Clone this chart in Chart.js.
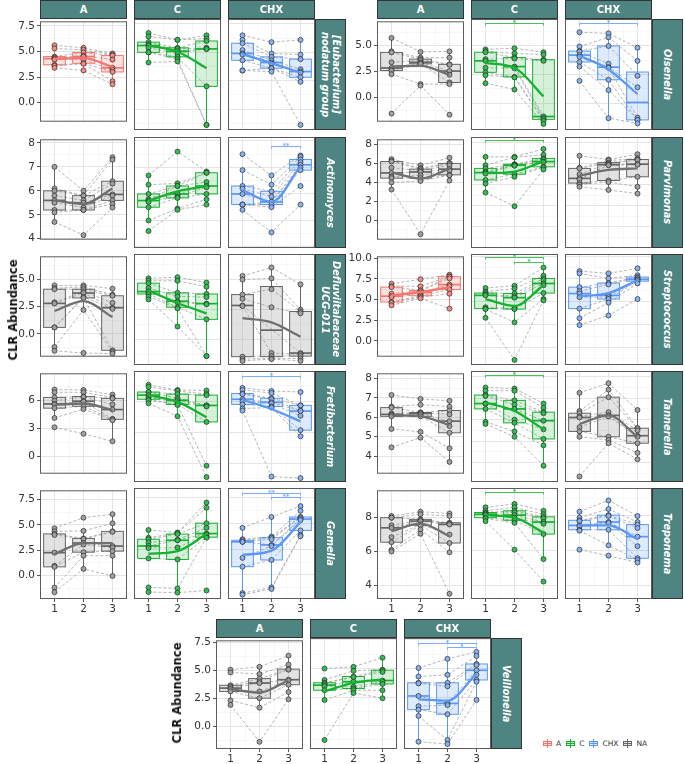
<!DOCTYPE html>
<html>
<head>
<meta charset="utf-8">
<script src="https://cdn.jsdelivr.net/npm/chart.js@4.4.1/dist/chart.umd.min.js"></script>
<style>
  body { margin: 0; width: 685px; height: 764px; position: relative; background: #fff; overflow: hidden;
         font-family: "DejaVu Sans", sans-serif; }
  .cell { position: absolute; }
  .strip { position: absolute; box-sizing: border-box; background: #4e8582; border: 1px solid #333;
           color: #fff; font-weight: bold; font-size: 10px; display: flex; align-items: center;
           justify-content: center; z-index: 5; }
  .side { writing-mode: vertical-rl; font-style: italic; font-size: 9.8px; text-align: center; line-height: 11.5px; }
  .ytitle { position: absolute; font-weight: bold; font-size: 11.5px; white-space: nowrap; color: #111;
            transform: translate(-50%, -50%) rotate(-90deg); z-index: 6; }
  .legend { position: absolute; left: 542px; top: 739px; font-size: 7.5px; color: #333; white-space: nowrap; }
  .legend span.item { margin-right: 4px; }
  .key { display: inline-block; position: relative; width: 11px; height: 9px; margin-right: 3px; vertical-align: middle; }
  .key s { position: absolute; left: 5px; top: 0; bottom: 0; width: 1px; background: var(--c); }
  .key i { position: absolute; left: 1px; right: 1px; top: 2px; bottom: 2px; border: 1px solid var(--c); background: var(--f); }
  .key b { position: absolute; left: 1px; right: 1px; top: 4px; height: 1px; background: var(--c); }
</style>
</head>
<body>
<script>
// ---- data: [t1 values], [t2 values], [t3 values], index = subject ----
const timepoints = [1, 2, 3];
const groupNames = ['A', 'C', 'CHX'];

const eubacteriumA = [[5.6, 5.3, 4.5, 4.4, 4.3, 4.2, 3.7, 3.6, 3.4], [5.35, 5.15, 4.9, 4.6, 4.5, 4.2, 3.85, 3.8, 3.15], [4.8, 4.7, 4.6, 4.2, 3.4, 3.2, 3.0, 2.1, 1.8]];
const eubacteriumC = [[6.7, 6.4, 5.9, 5.7, 5.6, 5.4, 5.0, 5.0, 4.1], [6.1, 6.1, 5.4, 5.3, 5.1, 4.9, 4.6, 4.4, 4.2], [6.5, 6.2, 6.0, 5.4, 5.3, 5.3, 2.0, -1.4, -1.4]];
const eubacteriumCHX = [[6.5, 6.1, 5.8, 5.2, 4.9, 4.8, 4.3, 3.4, 3.4], [5.9, 4.9, 4.6, 4.3, 4.1, 4.0, 3.6, 3.6, 3.3], [6.1, 4.8, 4.4, 3.5, 3.3, 3.2, 2.8, 2.4, -1.4]];
const eubacteriumTrend = [[4.3, 4.35, 3.5], [5.6, 5.05, 3.6], [4.85, 4.05, 3.2]];
const eubacteriumFill = ['A', 'C', 'CHX'];
const eubacteriumSig = [];
const eubacteriumTicks = [0, 2.5, 5, 7.5];

const actinomycesA = [[7.0, 6.1, 6.0, 5.8, 5.6, 5.5, 5.2, 5.1, 4.7], [6.0, 5.8, 5.8, 5.6, 5.5, 5.3, 5.2, 5.2, 4.15], [7.4, 7.3, 6.4, 6.3, 5.85, 5.8, 5.6, 5.45, 5.3]];
const actinomycesC = [[6.7, 6.35, 6.0, 5.8, 5.75, 5.7, 5.5, 5.0, 4.6], [7.6, 6.4, 6.3, 6.3, 6.0, 5.9, 5.85, 5.45, 5.4], [6.85, 6.8, 6.8, 6.45, 6.3, 6.25, 6.0, 5.8, 5.6]];
const actinomycesCHX = [[7.5, 6.9, 6.3, 6.2, 6.0, 5.6, 5.6, 5.6, 5.4], [6.7, 6.35, 6.1, 5.9, 5.7, 5.7, 5.6, 5.5, 4.55], [7.45, 7.4, 7.3, 7.2, 7.1, 7.0, 6.9, 6.3, 5.6]];
const actinomycesTrend = [[5.6, 5.45, 6.1], [5.75, 6.1, 6.3], [6.15, 5.7, 7.05]];
const actinomycesFill = ['NA', 'C', 'CHX'];
const actinomycesSig = [['CHX', 2, 3, 7.82, '**']];
const actinomycesTicks = [4, 5, 6, 7, 8];

const defluviiA = [[4.45, 4.2, 4.1, 2.9, 2.8, 0.6, 0.6, -1.2, -1.55], [4.45, 4.3, 4.1, 3.9, 3.75, 3.4, 3.3, 2.2, -1.75], [4.15, 3.6, 3.5, 2.85, 2.4, 2.3, -1.5, -1.65, -1.8]];
const defluviiC = [[5.1, 4.9, 4.7, 4.3, 4.0, 4.0, 3.8, 3.6, 3.35], [5.2, 4.9, 3.9, 3.6, 3.2, 3.1, 2.7, 2.6, 1.1], [4.75, 4.4, 3.8, 3.55, 3.0, 2.95, 1.7, -1.35, -1.35]];
const defluviiCHX = [[5.3, 5.0, 3.75, 3.4, 2.85, 2.8, -1.4, -1.6, -1.75], [6.0, 5.1, 4.2, 2.7, null, -1.1, -1.35, -1.55, -1.6], [4.6, 2.5, 2.35, 2.2, -1.1, -1.2, -1.35, -1.55, -1.75]];
const defluviiTrend = [[2.1, 3.0, 1.55], [4.1, 3.05, 2.2], [1.8, 1.45, 0.25]];
const defluviiFill = ['NA', 'C', 'NA'];
const defluviiSig = [];
const defluviiTicks = [0, 2.5, 5];

const fretibacteriumA = [[7.2, 6.9, 6.35, 6.0, 5.65, 5.6, 5.2, 4.15, 3.15], [7.15, 6.9, 6.45, 6.4, 5.95, 5.9, 5.4, 5.1, 2.45], [6.65, 6.35, 6.25, 5.6, 5.05, 4.05, 4.0, 3.9, 1.65]];
const fretibacteriumC = [[7.6, 7.4, 6.9, 6.9, 6.6, 6.4, 6.2, 6.1, 5.8], [7.1, 7.0, 6.7, 6.3, 6.1, 5.9, 5.7, 5.65, 4.55], [7.05, 6.7, 6.6, 5.6, 5.6, 5.5, 4.0, -0.25, -1.35]];
const fretibacteriumCHX = [[7.3, 7.1, 6.75, 6.7, 6.2, 6.0, 5.7, 5.3, 5.1], [7.0, 6.8, 6.3, 6.2, 5.9, 5.8, 5.5, 5.4, -1.3], [6.9, 5.6, 5.6, 5.1, 5.05, 4.6, 3.2, 2.6, -1.45]];
const fretibacteriumTrend = [[5.55, 5.7, 5.0], [6.6, 5.95, 4.45], [6.15, 5.25, 4.05]];
const fretibacteriumFill = ['NA', 'C', 'CHX'];
const fretibacteriumSig = [['CHX', 1, 3, 8.44, '*']];
const fretibacteriumTicks = [0, 3, 6];

const gemellaA = [[4.65, 4.35, 4.1, 4.0, 2.25, 0.95, 0.85, -1.2, -1.65], [5.7, 4.4, 3.65, 3.6, 3.2, 3.05, 2.3, 1.95, 0.65], [6.05, 5.15, 4.35, 4.3, 2.9, 2.75, 2.4, 1.95, -0.05]];
const gemellaC = [[4.35, 3.6, 3.45, 3.15, 2.8, 2.6, 1.6, -1.2, -1.65], [4.1, 4.05, 3.95, 3.4, 3.35, 2.65, 1.5, -1.3, -1.7], [7.0, 6.5, 5.0, 4.55, 4.0, 3.9, 3.65, 3.6, -1.5]];
const gemellaCHX = [[4.55, 3.45, 3.35, 3.2, 3.2, 1.65, 0.8, -1.75, -1.9], [5.6, 3.7, 3.6, 3.45, 2.9, 2.8, 1.45, -1.2, -1.35], [6.65, 6.2, 5.6, 5.55, 5.4, 5.3, 4.3, 3.85, 3.75]];
const gemellaTrend = [[2.1, 3.2, 3.2], [2.05, 2.3, 3.95], [1.95, 2.35, 5.1]];
const gemellaFill = ['NA', 'C', 'CHX'];
const gemellaSig = [['CHX', 1, 3, 7.88, '**'], ['CHX', 2, 3, 7.5, '**']];
const gemellaTicks = [0, 2.5, 5, 7.5];

const olsenellaA = [[5.75, 4.45, 4.35, 3.4, 2.85, 2.65, 2.6, 2.25, -1.55], [4.4, 3.85, 3.7, 3.6, 3.4, 3.3, 3.25, 1.3, 1.15], [4.45, 3.85, 3.2, 3.15, 2.55, 2.2, 1.45, 1.3, -1.65]];
const olsenellaC = [[4.7, 4.55, 4.45, 3.85, 3.7, 3.1, 2.7, 2.45, 1.75], [4.8, 4.35, 4.0, 3.9, 3.2, 3.05, 2.3, 2.25, 1.2], [4.45, 4.25, 3.8, 3.7, -1.15, -1.3, -1.4, -1.55, -1.8]];
const olsenellaCHX = [[6.2, 4.95, 4.55, 4.5, 4.2, 4.05, 3.6, 3.2, 1.95], [6.1, 5.75, 5.0, 3.45, 3.15, 3.1, 2.05, 1.15, -1.3], [4.85, 3.7, 2.4, null, 1.4, -1.25, -1.45, -1.45, -1.75]];
const olsenellaTrend = [[3.0, 3.05, 2.2], [3.5, 3.1, 0.6], [4.15, 2.95, 0.8]];
const olsenellaFill = ['NA', 'C', 'CHX'];
const olsenellaSig = [['C', 1, 3, 6.98, '*'], ['CHX', 1, 3, 6.98, '*']];
const olsenellaTicks = [0, 2.5, 5];

const parvimonasA = [[6.45, 6.25, 6.2, 5.55, 5.0, 4.6, 4.45, 4.0, 3.25], [5.8, 5.5, 5.4, 5.25, 5.1, 4.75, 4.45, 4.15, -1.45], [6.6, 6.05, 6.0, 5.8, 5.4, 5.25, 4.8, 4.75, 4.2]];
const parvimonasC = [[6.65, 5.85, 5.55, 5.25, 5.15, 5.05, 4.45, 4.1, 3.25], [6.65, 6.6, 5.95, 5.9, 5.85, 5.8, 5.0, 4.75, 1.95], [7.4, 6.85, 6.5, 6.4, 6.2, 6.15, 5.7, 5.65, 5.45]];
const parvimonasCHX = [[6.75, 5.6, 5.55, 5.0, 4.6, 4.5, 4.15, 4.0, 3.8], [6.4, 6.3, 6.1, 6.0, 5.9, 5.85, 4.4, 4.25, 3.5], [6.9, 6.5, 6.4, 6.35, 5.95, 5.9, 4.75, 3.8, 3.15]];
const parvimonasTrend = [[5.05, 4.4, 5.45], [5.1, 5.25, 6.25], [4.85, 5.4, 5.55]];
const parvimonasFill = ['NA', 'C', 'NA'];
const parvimonasSig = [['C', 1, 3, 8.25, '*']];
const parvimonasTicks = [0, 2, 4, 6, 8];

const streptococcusA = [[6.9, 6.6, 6.5, 5.7, 5.4, 5.3, 4.7, 4.6, 4.3], [7.45, 6.6, 6.1, 6.05, 5.85, 5.6, 5.45, 5.3, 5.15], [8.0, 7.8, 7.75, 7.55, 6.8, 6.6, 6.2, 5.7, 3.9]];
const streptococcusC = [[6.5, 6.1, 5.95, 5.8, 5.7, 4.4, 4.25, 4.2, 3.25], [6.75, 6.45, 5.9, 5.6, 5.45, 4.25, 4.2, 2.75, -1.35], [8.75, 7.85, 7.55, 7.35, 7.0, 6.8, 5.95, 5.3, 5.15]];
const streptococcusCHX = [[8.35, 8.1, 6.6, 6.15, 5.9, 5.5, 4.25, 3.2, 2.45], [8.1, 7.55, 7.05, 6.9, 5.7, 5.5, 5.3, 4.9, 3.5], [8.65, 7.9, 7.7, 7.6, 7.45, 7.4, 7.25, 7.0, 5.3]];
const streptococcusTrend = [[5.5, 5.9, 6.5], [5.3, 4.55, 6.8], [5.6, 5.95, 7.35]];
const streptococcusFill = ['A', 'C', 'CHX'];
const streptococcusSig = [['C', 1, 3, 9.85, '*'], ['C', 2, 3, 9.4, '*']];
const streptococcusTicks = [0, 2.5, 5, 7.5, 10];

const tannerellaA = [[7.15, 6.55, 6.5, 6.2, 6.15, 6.1, 6.05, 5.4, 4.45], [6.95, 6.65, 6.25, 6.25, 6.2, 6.15, 6.05, 5.25, 4.95], [6.85, 6.55, 6.35, 6.15, 5.8, 5.55, 5.2, 4.4, 3.7]];
const tannerellaC = [[7.5, 7.35, 7.15, 7.1, 6.75, 6.75, 6.5, 5.9, 5.8], [7.45, 7.35, 6.9, 6.7, 6.5, 6.0, 5.85, 5.45, 5.2], [6.75, 6.55, 6.35, 6.3, 5.95, 5.55, 5.1, 4.8, 3.85]];
const tannerellaCHX = [[7.25, 6.4, 6.3, 6.15, 6.1, 5.65, 5.45, 5.2, 3.35], [7.7, 7.4, 7.05, 6.35, 6.2, 6.15, 5.2, 5.05, 4.9], [6.45, 5.6, 5.6, 5.5, 5.25, 5.2, 4.9, 4.45, 4.15]];
const tannerellaTrend = [[6.1, 6.05, 5.6], [6.8, 6.4, 5.55], [5.8, 6.2, 5.2]];
const tannerellaFill = ['NA', 'C', 'NA'];
const tannerellaSig = [['C', 1, 3, 8.08, '*']];
const tannerellaTicks = [4, 5, 6, 7, 8];

const treponemaA = [[8.1, 8.0, 8.0, 7.55, 7.4, 6.85, 6.55, 6.1, 6.0], [8.35, 8.2, 7.9, 7.85, 7.8, 7.6, 7.55, 7.3, 7.05], [8.25, 8.1, 7.7, 7.65, 7.6, 7.0, 6.5, 5.95, 3.5]];
const treponemaC = [[8.5, 8.3, 8.2, 8.15, 8.1, 8.05, 7.9, 7.85, 7.7], [8.7, 8.5, 8.3, 8.2, 8.05, 7.9, 7.75, 7.6, 6.05], [8.3, 8.1, 7.95, 7.85, 7.65, 7.55, 6.95, 5.5, 4.2]];
const treponemaCHX = [[8.25, 7.9, 7.75, 7.7, 7.45, 7.4, 7.2, 7.15, 6.05], [8.9, 8.4, 8.05, 8.0, 7.65, 7.6, 7.2, 6.3, 5.7], [8.0, 7.65, 7.5, 7.3, 6.8, 6.25, 5.55, 5.45, 5.3]];
const treponemaTrend = [[7.2, 7.65, 6.9], [8.05, 7.9, 7.05], [7.45, 7.45, 6.65]];
const treponemaFill = ['NA', 'C', 'CHX'];
const treponemaSig = [['C', 1, 3, 9.37, '*']];
const treponemaTicks = [4, 6, 8];

const veillonellaA = [[5.05, 4.8, 3.65, 3.55, 3.4, 3.3, 3.1, 2.3, 1.9], [5.3, 4.65, 4.25, 4.0, 3.85, 3.1, 2.5, 1.65, -1.4], [6.3, 5.5, 5.1, 5.05, 4.15, 4.1, 3.7, 3.05, 2.4]];
const veillonellaC = [[5.0, 4.0, 3.75, 3.7, 3.55, 3.45, 3.1, 2.25, -1.25], [5.15, 4.8, 4.3, 4.25, 3.85, 3.4, 3.25, 3.1, 2.85], [5.95, 4.9, 4.85, 4.7, 3.95, 3.85, 3.65, 3.1, 2.4]];
const veillonellaCHX = [[5.05, 4.3, 3.75, 3.7, 2.6, 1.7, 1.4, 0.85, -1.4], [5.85, 4.45, 3.75, 3.45, 1.95, 1.8, 1.0, -1.25, -1.6], [6.45, 6.1, 5.4, 5.3, 4.85, 4.45, 4.0, 3.85, 2.25]];
const veillonellaTrend = [[3.3, 3.0, 4.1], [3.0, 3.75, 4.05], [2.3, 2.2, 4.55]];
const veillonellaFill = ['NA', 'C', 'CHX'];
const veillonellaSig = [['CHX', 1, 3, 7.25, '*'], ['CHX', 2, 3, 6.85, '*']];
const veillonellaTicks = [0, 2.5, 5, 7.5];

const taxonLabels = {
  eubacterium: ['[Eubacterium]', 'nodatum group'], actinomyces: ['Actinomyces'],
  defluvii: ['Defluviitaleaceae', 'UCG-011'], fretibacterium: ['Fretibacterium'], gemella: ['Gemella'],
  olsenella: ['Olsenella'], parvimonas: ['Parvimonas'], streptococcus: ['Streptococcus'],
  tannerella: ['Tannerella'], treponema: ['Treponema'], veillonella: ['Veillonella']
};

// ---- table built from the arrays above ----
const TAXA = {
  eubacterium: { groups: [eubacteriumA, eubacteriumC, eubacteriumCHX], trend: eubacteriumTrend, fill: eubacteriumFill, sig: eubacteriumSig, ticks: eubacteriumTicks },
  actinomyces: { groups: [actinomycesA, actinomycesC, actinomycesCHX], trend: actinomycesTrend, fill: actinomycesFill, sig: actinomycesSig, ticks: actinomycesTicks },
  defluvii: { groups: [defluviiA, defluviiC, defluviiCHX], trend: defluviiTrend, fill: defluviiFill, sig: defluviiSig, ticks: defluviiTicks },
  fretibacterium: { groups: [fretibacteriumA, fretibacteriumC, fretibacteriumCHX], trend: fretibacteriumTrend, fill: fretibacteriumFill, sig: fretibacteriumSig, ticks: fretibacteriumTicks },
  gemella: { groups: [gemellaA, gemellaC, gemellaCHX], trend: gemellaTrend, fill: gemellaFill, sig: gemellaSig, ticks: gemellaTicks },
  olsenella: { groups: [olsenellaA, olsenellaC, olsenellaCHX], trend: olsenellaTrend, fill: olsenellaFill, sig: olsenellaSig, ticks: olsenellaTicks },
  parvimonas: { groups: [parvimonasA, parvimonasC, parvimonasCHX], trend: parvimonasTrend, fill: parvimonasFill, sig: parvimonasSig, ticks: parvimonasTicks },
  streptococcus: { groups: [streptococcusA, streptococcusC, streptococcusCHX], trend: streptococcusTrend, fill: streptococcusFill, sig: streptococcusSig, ticks: streptococcusTicks },
  tannerella: { groups: [tannerellaA, tannerellaC, tannerellaCHX], trend: tannerellaTrend, fill: tannerellaFill, sig: tannerellaSig, ticks: tannerellaTicks },
  treponema: { groups: [treponemaA, treponemaC, treponemaCHX], trend: treponemaTrend, fill: treponemaFill, sig: treponemaSig, ticks: treponemaTicks },
  veillonella: { groups: [veillonellaA, veillonellaC, veillonellaCHX], trend: veillonellaTrend, fill: veillonellaFill, sig: veillonellaSig, ticks: veillonellaTicks }
};

// ---- layout & style ----
const yLimits = {
  eubacterium: [-1.85, 7.94], actinomyces: [3.96, 8.15], defluvii: [-2.09, 7.12], fretibacterium: [-1.83, 8.94],
  gemella: [-2.32, 8.4], olsenella: [-2.33, 7.35], parvimonas: [-2.03, 8.54], streptococcus: [-1.91, 10.22],
  tannerella: [3.09, 8.27], treponema: [3.19, 9.62], veillonella: [-2.04, 7.67]
};
const PW = 87, PH = 111, STRIP_W = 31, HEAD_H = 19, Y_GUTTER = 40, X_GUTTER = 14, TOP_PAD = 6, BOX_HALF = 0.375;
const BLOCKS = [
  { cols: [40, 134, 228], strip: 315, header: 0, rows: [19, 137, 254, 371, 488],
    taxa: ['eubacterium', 'actinomyces', 'defluvii', 'fretibacterium', 'gemella'], title: [13, 310] },
  { cols: [377, 471, 565], strip: 652, header: 0, rows: [19, 137, 254, 371, 488],
    taxa: ['olsenella', 'parvimonas', 'streptococcus', 'tannerella', 'treponema'], title: null },
  { cols: [216, 310, 404], strip: 491, header: 619, rows: [638],
    taxa: ['veillonella'], title: [177, 693] }
];
const LINE_COLOURS = { A: '#F8766D', C: '#14B22E', CHX: '#5B98F5', NA: '#666666' };
const FILL_COLOURS = { A: 'rgba(248,118,109,0.22)', C: 'rgba(20,178,46,0.18)', CHX: 'rgba(91,152,245,0.2)', NA: 'rgba(150,150,150,0.28)' };
const POINT_COLOURS = { A: '#F58A82', C: '#2EC04E', CHX: '#86B3F5', NA: '#A0A0A0' };
const TREND_COLOURS = { A: '#F8766D', C: '#14B22E', CHX: '#5B98F5', NA: '#707070' };
const TICK_FONT = { family: 'DejaVu Sans', size: 10.5 };

const panelByCanvas = new Map();

function quantile(sorted, p) {
  const pos = (sorted.length - 1) * p, lo = Math.floor(pos), hi = Math.ceil(pos);
  return sorted[lo] + (sorted[hi] - sorted[lo]) * (pos - lo);
}

function drawBoxes(chart, p) {
  const ctx = chart.ctx, xs = chart.scales.x, ys = chart.scales.y;
  const stroke = LINE_COLOURS[p.fill];
  p.values.forEach((vals, t) => {
    const v = vals.filter(n => n !== null).sort((a, b) => a - b);
    const q1 = quantile(v, 0.25), md = quantile(v, 0.5), q3 = quantile(v, 0.75), iqr = q3 - q1;
    const lo = Math.min(...v.filter(n => n >= q1 - 1.5 * iqr));
    const hi = Math.max(...v.filter(n => n <= q3 + 1.5 * iqr));
    const xc = xs.getPixelForValue(timepoints[t]);
    const xl = xs.getPixelForValue(timepoints[t] - BOX_HALF), xr = xs.getPixelForValue(timepoints[t] + BOX_HALF);
    const yq1 = ys.getPixelForValue(q1), yq3 = ys.getPixelForValue(q3);
    ctx.save();
    ctx.strokeStyle = stroke; ctx.lineWidth = 1;
    ctx.beginPath();
    ctx.moveTo(xc, ys.getPixelForValue(hi)); ctx.lineTo(xc, yq3);
    ctx.moveTo(xc, yq1); ctx.lineTo(xc, ys.getPixelForValue(lo));
    ctx.stroke();
    ctx.fillStyle = FILL_COLOURS[p.fill];
    ctx.fillRect(xl, yq3, xr - xl, yq1 - yq3);
    ctx.strokeRect(xl, yq3, xr - xl, yq1 - yq3);
    ctx.lineWidth = 1.7;
    ctx.beginPath();
    ctx.moveTo(xl, ys.getPixelForValue(md)); ctx.lineTo(xr, ys.getPixelForValue(md));
    ctx.stroke();
    ctx.restore();
  });
}

function drawBrackets(chart, p) {
  const ctx = chart.ctx, xs = chart.scales.x, ys = chart.scales.y;
  p.sig.forEach(([g, from, to, yv, label]) => {
    const x0 = xs.getPixelForValue(from), x1 = xs.getPixelForValue(to), y = Math.round(ys.getPixelForValue(yv)) + 0.5;
    ctx.save();
    ctx.strokeStyle = LINE_COLOURS[g]; ctx.fillStyle = LINE_COLOURS[g]; ctx.lineWidth = 0.8;
    ctx.beginPath();
    ctx.moveTo(x0, y + 2); ctx.lineTo(x0, y); ctx.lineTo(x1, y); ctx.lineTo(x1, y + 2);
    ctx.stroke();
    ctx.font = '7px "DejaVu Sans"'; ctx.textAlign = 'center'; ctx.textBaseline = 'bottom';
    ctx.fillText(label, (x0 + x1) / 2, y + 3);
    ctx.restore();
  });
}

Chart.register({
  id: 'panelDecor',
  beforeDatasetDraw(chart, args) {
    const p = panelByCanvas.get(chart.canvas);
    if (p && args.index === 1) drawBoxes(chart, p);
  },
  afterDatasetsDraw(chart) {
    const p = panelByCanvas.get(chart.canvas);
    if (!p) return;
    drawBrackets(chart, p);
    const a = chart.chartArea, ctx = chart.ctx;
    ctx.save();
    ctx.strokeStyle = '#5c5c5c'; ctx.lineWidth = 1;
    ctx.strokeRect(a.left + 0.5, a.top + 0.5, a.right - a.left - 1, a.bottom - a.top - 1);
    ctx.restore();
  }
});

function makeChart(p) {
  const padL = p.firstCol ? Y_GUTTER : 0, padB = p.bottomRow ? X_GUTTER : 0;
  const wrap = document.createElement('div');
  wrap.className = 'cell';
  wrap.style.left = (p.x - padL) + 'px';
  wrap.style.top = (p.y - TOP_PAD) + 'px';
  wrap.style.width = (PW + padL) + 'px';
  wrap.style.height = (PH + TOP_PAD + padB) + 'px';
  const canvas = document.createElement('canvas');
  wrap.appendChild(canvas);
  document.body.appendChild(wrap);
  panelByCanvas.set(canvas, p);

  const majors = p.ticks;
  const isMajor = v => majors.some(m => Math.abs(m - v) < 1e-6);
  const decimals = majors.some(m => !Number.isInteger(m)) ? 1 : 0;
  const step = (majors[1] - majors[0]) / 2;
  const yGrid = [];
  for (let v = Math.ceil(p.range[0] / step) * step; v <= p.range[1] + 1e-9; v += step) yGrid.push(+v.toFixed(6));

  const points = [];
  p.values.forEach((vals, t) => vals.forEach(v => { if (v !== null) points.push({ x: timepoints[t], y: v }); }));
  const subjects = p.values[0].map((_, i) => ({
    data: timepoints.map((tp, t) => ({ x: tp, y: p.values[t][i] })).filter(d => d.y !== null),
    borderColor: '#a3a3a3', borderWidth: 0.8, borderDash: [3, 2], pointRadius: 0, order: 2
  }));

  new Chart(canvas, {
    type: 'line',
    data: {
      datasets: [
        { data: timepoints.map((tp, t) => ({ x: tp, y: p.trend[t] })), borderColor: TREND_COLOURS[p.fill],
          borderWidth: 2.3, pointRadius: 0, cubicInterpolationMode: 'monotone', order: 0 },
        { data: points, showLine: false, pointRadius: 2.5, pointBorderWidth: 0.7,
          pointBackgroundColor: POINT_COLOURS[p.fill], pointBorderColor: '#2b2b2b', order: 1 },
        ...subjects
      ]
    },
    options: {
      responsive: true, maintainAspectRatio: false, animation: false, events: [],
      layout: { padding: { top: TOP_PAD, left: 0, right: 0, bottom: 0 }, autoPadding: false },
      plugins: { legend: { display: false }, tooltip: { enabled: false } },
      scales: {
        x: {
          type: 'linear', min: 0.5, max: 3.5, bounds: 'data',
          afterBuildTicks: s => { s.ticks = [1, 1.5, 2, 2.5, 3].map(v => ({ value: v })); },
          afterFit: s => { s.height = padB; },
          ticks: { display: p.bottomRow, autoSkip: false, maxRotation: 0, padding: 1, color: '#333', font: TICK_FONT,
                   callback: v => Number.isInteger(v) ? String(v) : '' },
          grid: { color: ctx => ctx.tick && Number.isInteger(ctx.tick.value) ? '#e2e2e2' : '#efefef',
                  lineWidth: ctx => ctx.tick && Number.isInteger(ctx.tick.value) ? 0.9 : 0.5,
                  drawTicks: p.bottomRow, tickLength: 3,
                  tickColor: ctx => ctx.tick && Number.isInteger(ctx.tick.value) ? '#444' : 'rgba(0,0,0,0)' },
          border: { display: false }
        },
        y: {
          type: 'linear', min: p.range[0], max: p.range[1], bounds: 'data',
          afterBuildTicks: s => { s.ticks = yGrid.map(v => ({ value: v })); },
          afterFit: s => { s.width = padL; },
          ticks: { display: p.firstCol, autoSkip: false, padding: 2, color: '#333', font: TICK_FONT,
                   callback: v => isMajor(v) ? v.toFixed(decimals) : '' },
          grid: { color: ctx => ctx.tick && isMajor(ctx.tick.value) ? '#e2e2e2' : '#efefef',
                  lineWidth: ctx => ctx.tick && isMajor(ctx.tick.value) ? 0.9 : 0.5,
                  drawTicks: p.firstCol, tickLength: 3,
                  tickColor: ctx => ctx.tick && isMajor(ctx.tick.value) ? '#444' : 'rgba(0,0,0,0)' },
          border: { display: false }
        }
      }
    }
  });
}

function addDiv(cls, left, top, width, height, html) {
  const d = document.createElement('div');
  d.className = cls;
  Object.assign(d.style, { left: left + 'px', top: top + 'px', width: width + 'px', height: height + 'px' });
  d.innerHTML = html;
  document.body.appendChild(d);
}

BLOCKS.forEach(block => {
  block.taxa.forEach((key, r) => {
    const tx = TAXA[key], y = block.rows[r];
    groupNames.forEach((g, c) => {
      makeChart({
        x: block.cols[c], y, firstCol: c === 0, bottomRow: r === block.taxa.length - 1,
        values: tx.groups[c], trend: tx.trend[c], fill: tx.fill[c], ticks: tx.ticks,
        sig: tx.sig.filter(s => s[0] === g), range: yLimits[key]
      });
    });
    addDiv('strip side', block.strip, y, STRIP_W, PH, taxonLabels[key].join('<br>'));
  });
  groupNames.forEach((g, c) => addDiv('strip', block.cols[c], block.header, PW, HEAD_H, g));
  if (block.title) {
    const t = document.createElement('div');
    t.className = 'ytitle';
    t.style.left = block.title[0] + 'px';
    t.style.top = block.title[1] + 'px';
    t.textContent = 'CLR Abundance';
    document.body.appendChild(t);
  }
});

// legend
const legend = document.createElement('div');
legend.className = 'legend';
legend.innerHTML = ['A', 'C', 'CHX', 'NA'].map(k =>
  `<span class="item"><span class="key" style="--c:${LINE_COLOURS[k]};--f:${FILL_COLOURS[k]}"><s></s><i></i><b></b></span>${k}</span>`
).join('');
document.body.appendChild(legend);
</script>
</body>
</html>
